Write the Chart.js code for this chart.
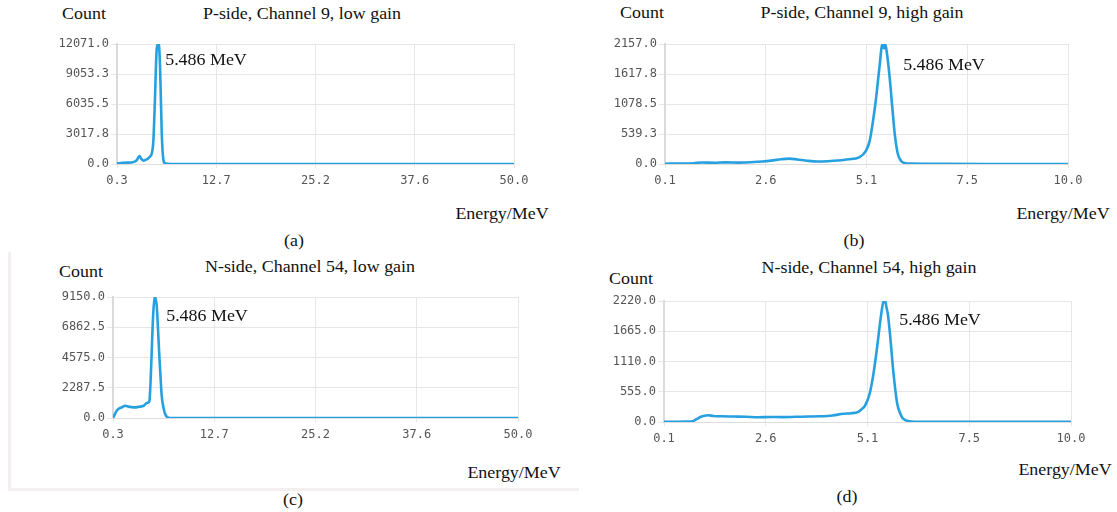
<!DOCTYPE html>
<html>
<head>
<meta charset="utf-8">
<script src="https://cdn.jsdelivr.net/npm/chart.js@4"></script>
<style>
  body { margin: 0; background: #fff; width: 1117px; height: 512px; position: relative; overflow: hidden; }
  canvas { position: absolute; }
  .lbl {
    position: absolute; white-space: nowrap; color: #111;
    font-family: 'Liberation Serif', 'Times New Roman', serif; font-size: 16px;
    transform: translate(-50%, -50%) scaleX(1.12);
  }
  .frame { position: absolute; left: 8px; top: 252px; width: 568px; height: 236px;
    border-left: 3px solid #f3efef; border-bottom: 3px solid #f3efef; }
</style>
</head>
<body>
<div class="frame"></div>
<canvas id="chartA"></canvas>
<canvas id="chartB"></canvas>
<canvas id="chartC"></canvas>
<canvas id="chartD"></canvas>

<div class="lbl" style="left:84px;top:14px">Count</div>
<div class="lbl" style="left:302px;top:14px">P-side, Channel 9, low gain</div>
<div class="lbl" style="left:206px;top:60px">5.486 MeV</div>
<div class="lbl" style="left:502px;top:214px">Energy/MeV</div>
<div class="lbl" style="left:294px;top:241px">(a)</div>

<div class="lbl" style="left:642px;top:13px">Count</div>
<div class="lbl" style="left:862px;top:13px">P-side, Channel 9, high gain</div>
<div class="lbl" style="left:944px;top:65px">5.486 MeV</div>
<div class="lbl" style="left:1063px;top:214px">Energy/MeV</div>
<div class="lbl" style="left:854px;top:241px">(b)</div>

<div class="lbl" style="left:81px;top:272px">Count</div>
<div class="lbl" style="left:310px;top:267px">N-side, Channel 54, low gain</div>
<div class="lbl" style="left:207px;top:316px">5.486 MeV</div>
<div class="lbl" style="left:514px;top:473px">Energy/MeV</div>
<div class="lbl" style="left:293px;top:500px">(c)</div>

<div class="lbl" style="left:631px;top:279px">Count</div>
<div class="lbl" style="left:869px;top:268px">N-side, Channel 54, high gain</div>
<div class="lbl" style="left:940px;top:320px">5.486 MeV</div>
<div class="lbl" style="left:1065px;top:470px">Energy/MeV</div>
<div class="lbl" style="left:847px;top:497px">(d)</div>

<script>
// P-side, Channel 9, low gain
const energyA = [0.3, 1.0, 1.7, 2.1, 2.5, 2.8, 3.1, 3.35, 3.6, 3.9, 4.2, 4.45, 4.65, 4.85, 5.05, 5.25, 5.38, 5.47, 5.56, 5.68, 5.8, 5.9, 6.0, 6.15, 6.4, 7.0, 10.0, 20.0, 30.0, 40.0, 50.0];
const countA = [60, 110, 140, 150, 230, 420, 790, 520, 340, 420, 560, 760, 1050, 2300, 6500, 11300, 12000, 12071, 11900, 10000, 6300, 3200, 1400, 250, 40, 0, 0, 0, 0, 0, 0];
const xTicksA = [0.3, 12.725, 25.15, 37.575, 50.0];
const xLabelsA = ['0.3', '12.7', '25.2', '37.6', '50.0'];
const yTicksA = [0, 3017.75, 6035.5, 9053.25, 12071];
const yLabelsA = ['0.0', '3017.8', '6035.5', '9053.3', '12071.0'];

// P-side, Channel 9, high gain
const energyB = [0.1, 0.5, 0.8, 1.0, 1.3, 1.6, 1.9, 2.2, 2.5, 2.75, 2.95, 3.15, 3.35, 3.6, 3.85, 4.1, 4.35, 4.6, 4.87, 5.04, 5.13, 5.2, 5.28, 5.37, 5.44, 5.48, 5.51, 5.55, 5.62, 5.68, 5.75, 5.82, 5.9, 6.0, 6.15, 6.5, 7.0, 8.0, 9.0, 10.0];
const countB = [5, 8, 12, 28, 22, 30, 25, 32, 45, 65, 85, 97, 82, 58, 45, 50, 62, 85, 120, 240, 420, 725, 1150, 1750, 2150, 2080, 2157, 2000, 1550, 1050, 500, 180, 55, 15, 6, 3, 2, 1, 1, 1];
const xTicksB = [0.1, 2.575, 5.05, 7.525, 10.0];
const xLabelsB = ['0.1', '2.6', '5.1', '7.5', '10.0'];
const yTicksB = [0, 539.25, 1078.5, 1617.75, 2157];
const yLabelsB = ['0.0', '539.3', '1078.5', '1617.8', '2157.0'];

// N-side, Channel 54, low gain
const energyC = [0.3, 0.5, 0.7, 1.0, 1.4, 1.8, 2.2, 2.6, 3.0, 3.4, 3.8, 4.1, 4.35, 4.55, 4.76, 4.9, 5.05, 5.15, 5.25, 5.35, 5.45, 5.55, 5.66, 5.76, 5.86, 5.96, 6.07, 6.17, 6.27, 6.4, 6.56, 6.7, 6.89, 7.1, 7.4, 8.0, 10.0, 20.0, 30.0, 40.0, 50.0];
const countC = [0, 250, 500, 700, 810, 930, 860, 820, 800, 840, 880, 940, 1100, 1150, 1250, 2600, 5000, 6700, 8040, 8800, 9150, 8950, 8550, 7500, 6280, 5000, 3760, 2700, 1740, 1100, 600, 300, 100, 30, 0, 0, 0, 0, 0, 0, 0];
const xTicksC = [0.3, 12.725, 25.15, 37.575, 50.0];
const xLabelsC = ['0.3', '12.7', '25.2', '37.6', '50.0'];
const yTicksC = [0, 2287.5, 4575, 6862.5, 9150];
const yLabelsC = ['0.0', '2287.5', '4575.0', '6862.5', '9150.0'];

// N-side, Channel 54, high gain
const energyD = [0.1, 0.4, 0.7, 0.8, 0.9, 1.0, 1.1, 1.17, 1.3, 1.5, 1.8, 2.1, 2.4, 2.7, 3.0, 3.3, 3.6, 3.9, 4.2, 4.46, 4.65, 4.81, 4.9, 4.98, 5.05, 5.11, 5.2, 5.29, 5.38, 5.44, 5.48, 5.51, 5.55, 5.6, 5.68, 5.77, 5.84, 5.9, 6.0, 6.07, 6.2, 6.5, 7.0, 8.0, 9.0, 10.0];
const countD = [4, 5, 6, 15, 56, 95, 115, 124, 110, 105, 100, 95, 88, 92, 90, 95, 100, 105, 120, 150, 160, 180, 230, 290, 400, 540, 910, 1410, 1960, 2210, 2220, 2110, 1950, 1590, 910, 350, 170, 75, 25, 12, 5, 3, 2, 2, 2, 2];
const xTicksD = [0.1, 2.575, 5.05, 7.525, 10.0];
const xLabelsD = ['0.1', '2.6', '5.1', '7.5', '10.0'];
const yTicksD = [0, 555, 1110, 1665, 2220];
const yLabelsD = ['0.0', '555.0', '1110.0', '1665.0', '2220.0'];

const Y_AXIS_W = 62;
const X_AXIS_H = 30;
const PAD_TOP = 10;
const PAD_RIGHT = 22;
const tickFont = { family: "'DejaVu Sans Mono', monospace", size: 12 };

// plot area boxes in page pixels: left, top, right, bottom
function makePanel(id, box, energy, counts, xTicks, xLabels, yTicks, yLabels) {
    const canvas = document.getElementById(id);
    const w = (box.r - box.l) + Y_AXIS_W + PAD_RIGHT;
    const h = (box.b - box.t) + PAD_TOP + X_AXIS_H;
    canvas.width = w;
    canvas.height = h;
    canvas.style.width = w + 'px';
    canvas.style.height = h + 'px';
    canvas.style.left = (box.l - Y_AXIS_W) + 'px';
    canvas.style.top = (box.t - PAD_TOP) + 'px';

    return new Chart(canvas.getContext('2d'), {
        type: 'line',
        data: {
            datasets: [{
                data: energy.map((e, i) => ({ x: e, y: counts[i] })),
                borderColor: '#27a0e0',
                borderWidth: 2.6,
                pointRadius: 0,
                cubicInterpolationMode: 'monotone',
                fill: false
            }]
        },
        options: {
            responsive: false,
            animation: false,
            layout: { padding: { top: PAD_TOP, right: PAD_RIGHT, left: 0, bottom: 0 } },
            plugins: { legend: { display: false }, tooltip: { enabled: false } },
            scales: {
                x: {
                    type: 'linear',
                    min: xTicks[0],
                    max: xTicks[xTicks.length - 1],
                    afterBuildTicks: scale => { scale.ticks = xTicks.map(v => ({ value: v })); },
                    afterFit: scale => { scale.height = X_AXIS_H; },
                    ticks: {
                        autoSkip: false, maxRotation: 0, padding: 6,
                        font: tickFont, color: '#555',
                        callback: (v, i) => xLabels[i]
                    },
                    grid: { color: '#e6e6e6', tickLength: 4 },
                    border: { color: '#dddddd', width: 1 }
                },
                y: {
                    min: 0,
                    max: yTicks[yTicks.length - 1],
                    afterBuildTicks: scale => { scale.ticks = yTicks.map(v => ({ value: v })); },
                    afterFit: scale => { scale.width = Y_AXIS_W; },
                    ticks: {
                        padding: 2,
                        font: tickFont, color: '#555',
                        callback: (v, i) => yLabels[i]
                    },
                    grid: { color: '#e6e6e6', tickLength: 6 },
                    border: { color: '#dadada', width: 2 }
                }
            }
        }
    });
}

window.addEventListener('DOMContentLoaded', () => {
    makePanel('chartA', { l: 117, t: 44, r: 514, b: 164 }, energyA, countA, xTicksA, xLabelsA, yTicksA, yLabelsA);
    makePanel('chartB', { l: 665, t: 44, r: 1068, b: 164 }, energyB, countB, xTicksB, xLabelsB, yTicksB, yLabelsB);
    makePanel('chartC', { l: 113, t: 297, r: 518, b: 418 }, energyC, countC, xTicksC, xLabelsC, yTicksC, yLabelsC);
    makePanel('chartD', { l: 664, t: 301, r: 1071, b: 422 }, energyD, countD, xTicksD, xLabelsD, yTicksD, yLabelsD);
});
</script>
</body>
</html>
